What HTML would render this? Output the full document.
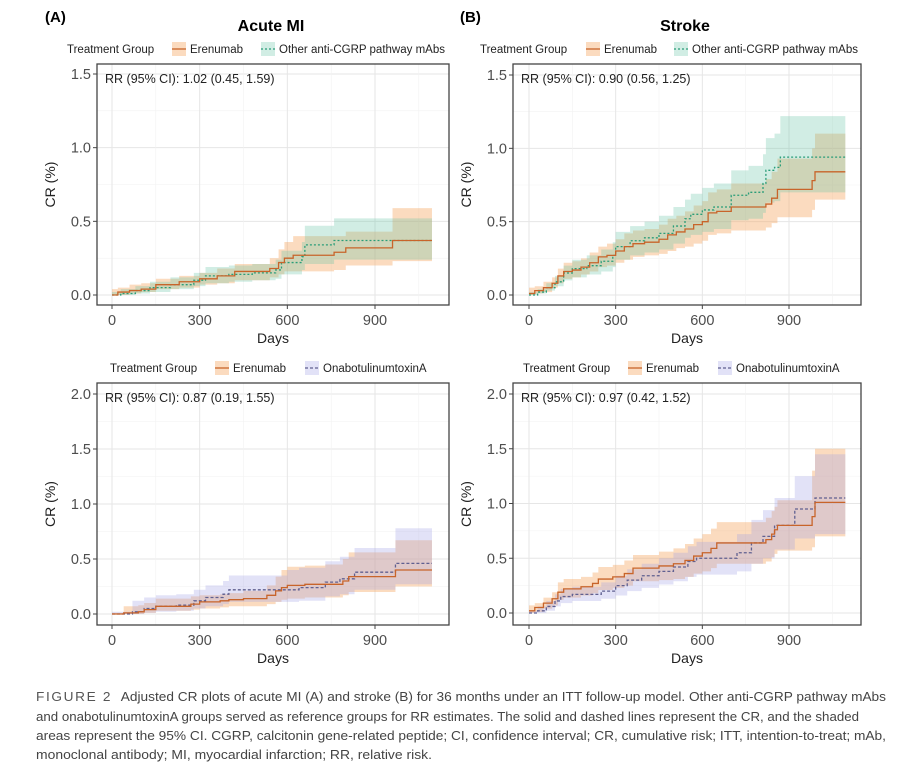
<!DOCTYPE html>
<html><head><meta charset="utf-8"><style>
body{margin:0;background:#fff}
svg{display:block;font-family:"Liberation Sans",sans-serif}
</style></head><body>
<svg id="fig" width="909" height="776" viewBox="0 0 909 776">
<text x="45" y="22" font-size="15" font-weight="bold">(A)</text>
<text x="460" y="22" font-size="15" font-weight="bold">(B)</text>
<text x="271" y="31" font-size="16" font-weight="bold" text-anchor="middle">Acute MI</text>
<text x="685" y="31" font-size="16" font-weight="bold" text-anchor="middle">Stroke</text>
<g font-size="12.5" fill="#555">
<text x="36" y="701" textLength="850" lengthAdjust="spacingAndGlyphs"><tspan letter-spacing="1.5">FIGURE 2</tspan><tspan fill="#444" dx="8">Adjusted CR plots of acute MI (A) and stroke (B) for 36 months under an ITT follow-up model. Other anti-CGRP pathway mAbs</tspan></text>
<text x="36" y="721" textLength="823" lengthAdjust="spacingAndGlyphs" fill="#444">and onabotulinumtoxinA groups served as reference groups for RR estimates. The solid and dashed lines represent the CR, and the shaded</text>
<text x="36" y="740" textLength="850" lengthAdjust="spacingAndGlyphs" fill="#444">areas represent the 95% CI. CGRP, calcitonin gene-related peptide; CI, confidence interval; CR, cumulative risk; ITT, intention-to-treat; mAb,</text>
<text x="36" y="759" textLength="396" lengthAdjust="spacingAndGlyphs" fill="#444">monoclonal antibody; MI, myocardial infarction; RR, relative risk.</text>
</g>
</svg>
<script>
// ---- Panel A top: Acute MI, Erenumab vs Other anti-CGRP
const miErenT=[0,20,60,100,150,230,300,360,420,540,570,590,620,760,800,960];
const miErenV=[0,0.02,0.03,0.04,0.07,0.09,0.11,0.13,0.16,0.18,0.22,0.25,0.27,0.29,0.32,0.37];
const miErenL=[0,0,0.01,0.02,0.04,0.05,0.07,0.08,0.10,0.12,0.14,0.16,0.16,0.17,0.20,0.23];
const miErenU=[0.04,0.05,0.07,0.08,0.11,0.13,0.15,0.18,0.21,0.25,0.31,0.36,0.40,0.40,0.43,0.59];
const miOthT=[0,30,80,130,200,280,320,400,480,560,580,650,660,760];
const miOthV=[0,0.01,0.03,0.05,0.07,0.10,0.13,0.14,0.15,0.17,0.22,0.26,0.34,0.37];
const miOthL=[0,0,0.01,0.02,0.04,0.06,0.08,0.09,0.10,0.11,0.14,0.17,0.21,0.24];
const miOthU=[0.02,0.04,0.06,0.09,0.12,0.15,0.19,0.20,0.21,0.24,0.30,0.36,0.47,0.52];
// ---- Panel B top: Stroke, Erenumab vs Other anti-CGRP
const stErenT=[0,20,50,80,100,120,150,180,210,240,270,300,330,360,400,450,480,510,540,570,600,620,650,700,820,840,860,980,990];
const stErenV=[0.01,0.03,0.05,0.08,0.13,0.16,0.17,0.19,0.22,0.26,0.27,0.30,0.33,0.35,0.36,0.38,0.41,0.43,0.45,0.48,0.50,0.56,0.57,0.60,0.62,0.66,0.72,0.78,0.84];
const stErenL=[0,0.01,0.02,0.05,0.08,0.11,0.12,0.14,0.16,0.19,0.20,0.22,0.24,0.26,0.27,0.28,0.30,0.32,0.33,0.35,0.37,0.41,0.42,0.44,0.46,0.49,0.53,0.58,0.65];
const stErenU=[0.05,0.06,0.09,0.12,0.18,0.22,0.23,0.25,0.29,0.33,0.35,0.38,0.42,0.44,0.45,0.48,0.52,0.54,0.57,0.61,0.64,0.70,0.72,0.76,0.79,0.84,0.93,1.00,1.10];
const stOthT=[0,30,60,90,120,150,200,250,290,300,350,400,450,500,540,560,600,640,700,760,810,820,850,870];
const stOthV=[0,0.02,0.05,0.09,0.15,0.18,0.20,0.23,0.27,0.33,0.37,0.39,0.42,0.47,0.52,0.55,0.58,0.60,0.68,0.70,0.76,0.85,0.87,0.94];
const stOthL=[0,0.01,0.03,0.06,0.10,0.12,0.14,0.16,0.19,0.24,0.27,0.29,0.31,0.35,0.39,0.41,0.43,0.45,0.51,0.52,0.56,0.63,0.64,0.70];
const stOthU=[0.02,0.04,0.08,0.13,0.20,0.24,0.27,0.31,0.36,0.43,0.47,0.50,0.54,0.60,0.65,0.69,0.73,0.76,0.85,0.88,0.96,1.07,1.10,1.22];
// ---- Panel A bottom: Acute MI, Erenumab vs OnabotulinumtoxinA
const mi2ErenT=[0,40,90,110,150,270,300,370,400,450,530,560,580,600,660,730,790,810,970];
const mi2ErenV=[0,0.01,0.02,0.04,0.07,0.09,0.11,0.12,0.13,0.14,0.17,0.21,0.24,0.26,0.27,0.27,0.30,0.34,0.40];
const mi2ErenL=[0,0,0,0.01,0.03,0.04,0.05,0.06,0.07,0.07,0.09,0.11,0.13,0.14,0.15,0.15,0.17,0.20,0.25];
const mi2ErenU=[0.01,0.07,0.08,0.10,0.14,0.16,0.17,0.18,0.19,0.21,0.26,0.34,0.40,0.43,0.44,0.45,0.50,0.56,0.67];
const ona1T=[0,70,110,150,220,280,320,380,400,470,580,600,640,730,780,830,970];
const ona1V=[0,0.02,0.05,0.07,0.08,0.12,0.15,0.18,0.22,0.22,0.22,0.22,0.24,0.29,0.32,0.38,0.46];
const ona1L=[0,0,0.01,0.02,0.03,0.05,0.07,0.09,0.11,0.11,0.11,0.11,0.12,0.16,0.18,0.22,0.27];
const ona1U=[0.02,0.12,0.15,0.17,0.18,0.22,0.26,0.30,0.35,0.35,0.35,0.40,0.42,0.48,0.52,0.60,0.78];
// ---- Panel B bottom: Stroke, Erenumab vs OnabotulinumtoxinA
const st2ErenT=[0,20,50,80,100,120,180,220,240,290,330,360,450,500,540,570,600,630,650,820,840,850,860,980,990];
const st2ErenV=[0.02,0.05,0.09,0.13,0.19,0.22,0.24,0.27,0.31,0.33,0.36,0.41,0.43,0.45,0.48,0.52,0.55,0.59,0.64,0.67,0.72,0.76,0.80,0.88,1.01];
const st2ErenL=[0,0.01,0.04,0.07,0.12,0.14,0.16,0.18,0.21,0.23,0.25,0.29,0.30,0.31,0.33,0.36,0.38,0.41,0.45,0.47,0.51,0.54,0.57,0.60,0.70];
const st2ErenU=[0.07,0.09,0.14,0.19,0.28,0.31,0.33,0.37,0.42,0.44,0.48,0.53,0.56,0.59,0.63,0.68,0.72,0.77,0.83,0.87,0.93,0.97,1.03,1.30,1.50];
const ona2T=[0,30,60,90,110,150,250,300,340,390,450,500,550,580,650,720,770,810,850,920,990];
const ona2V=[0,0.02,0.06,0.11,0.15,0.17,0.20,0.25,0.30,0.34,0.38,0.42,0.47,0.50,0.50,0.55,0.64,0.70,0.80,0.95,1.05];
const ona2L=[0,0,0.02,0.06,0.09,0.11,0.13,0.16,0.20,0.23,0.26,0.29,0.33,0.35,0.35,0.38,0.45,0.50,0.58,0.68,0.72];
const ona2U=[0.02,0.06,0.11,0.17,0.22,0.24,0.28,0.34,0.40,0.45,0.50,0.55,0.61,0.65,0.65,0.72,0.85,0.94,1.05,1.25,1.45];
const xTicks=[0,300,600,900];
const yTicksTop=[0,0.5,1.0,1.5];
const yTicksBot=[0,0.5,1.0,1.5,2.0];
const T_END=1095;

const NS='http://www.w3.org/2000/svg';
const svg=document.getElementById('fig');
function mk(tag,attrs,parent){const e=document.createElementNS(NS,tag);for(const k in attrs)e.setAttribute(k,attrs[k]);(parent||svg).appendChild(e);return e;}

function panel(cfg){
  const g=mk('g',{});
  
  
  const xs=d=>cfg.x0+(d/900)*(cfg.x900-cfg.x0);
  const ys=v=>cfg.y0-(v/cfg.ymaxTick)*(cfg.y0-cfg.yTop);
  const L=cfg.left,R=cfg.right,T=cfg.top,B=cfg.bottom;
  const step=(cfg.y0-cfg.yTop)/(cfg.yTicks.length-1);
  for(let i=0;i<cfg.yTicks.length*2;i++){const y=cfg.y0-i*step/2;if(y<T)break;
    mk('line',{x1:L,x2:R,y1:y,y2:y,stroke:i%2?'#f2f2f2':'#e6e6e6','stroke-width':i%2?0.6:1},g);}
  for(let d=0;d<=1200;d+=150){const x=xs(d);if(x>R)break;
    mk('line',{x1:x,x2:x,y1:T,y2:B,stroke:(d%300)?'#f2f2f2':'#e6e6e6','stroke-width':(d%300)?0.6:1},g);}
  cfg.series.forEach(s=>{
    let up='',lo='';
    for(let i=0;i<s.t.length;i++){const x1=xs(s.t[i]),x2=xs(i+1<s.t.length?s.t[i+1]:T_END);
      up+=(i?'L':'M')+x1+','+ys(s.u[i])+'L'+x2+','+ys(s.u[i]);
      lo=' L'+x2+','+ys(s.l[i])+' L'+x1+','+ys(s.l[i])+lo;}
    const band=mk('path',{d:up+lo+'Z',fill:s.fill,'fill-opacity':s.op},g);
    
    
  });
  cfg.series.slice().reverse().forEach(s=>{
    let d='';
    for(let i=0;i<s.t.length;i++){const x1=xs(s.t[i]),x2=xs(i+1<s.t.length?s.t[i+1]:T_END);
      d+=(i?'L':'M')+x1+','+ys(s.v[i])+'L'+x2+','+ys(s.v[i]);}
    const ln=mk('path',{d:d,fill:'none',stroke:s.line,'stroke-width':1.3,'stroke-dasharray':s.dash||'none'},g);
    
    
  });
  mk('rect',{x:L,y:T,width:R-L,height:B-T,fill:'none',stroke:'#444','stroke-width':1.3},g);
  cfg.yTicks.forEach((v,i)=>{const y=ys(v);
    mk('line',{x1:L-4,x2:L,y1:y,y2:y,stroke:'#444'},g);
    const t=mk('text',{x:L-6,y:y+5,'font-size':14.5,fill:'#4d4d4d','text-anchor':'end'},g);t.textContent=v.toFixed(1);
    });
  xTicks.forEach(d=>{const x=xs(d);
    mk('line',{x1:x,x2:x,y1:B,y2:B+4,stroke:'#444'},g);
    const t=mk('text',{x:x,y:B+20,'font-size':14.5,fill:'#4d4d4d','text-anchor':'middle'},g);t.textContent=d;
    });
  const xt=mk('text',{x:(L+R)/2,y:B+38,'font-size':14,'text-anchor':'middle',fill:'#222'},g);xt.textContent='Days';
  
  const yt=mk('text',{x:0,y:0,'font-size':14,'text-anchor':'middle',fill:'#222',transform:'translate('+(L-42)+','+((T+B)/2)+') rotate(-90)'},g);yt.textContent='CR (%)';
  
  const rr=mk('text',{x:L+8,y:T+19,'font-size':12.5,fill:'#222'},g);rr.textContent=cfg.rr;
  
  const lg=mk('g',{'font-size':11.5,fill:'#222'},g);
  
  const tg=mk('text',{x:cfg.lx,y:cfg.ly+4},lg);tg.textContent='Treatment Group';
  cfg.series.forEach((s,i)=>{const kx=cfg.keys[i];
    const k=mk('g',{},lg);
    
    mk('rect',{x:kx,y:cfg.ly-7,width:14,height:14,fill:s.fill,'fill-opacity':s.op},k);
    mk('line',{x1:kx,x2:kx+14,y1:cfg.ly,y2:cfg.ly,stroke:s.line,'stroke-width':1.3,'stroke-dasharray':s.dash||'none'},k);
    const t=mk('text',{x:kx+18,y:cfg.ly+4},k);t.textContent=s.label;});
}
const O={fill:'#f4a460',op:0.4,line:'#c8642a'};
const TE={fill:'#66c2a5',op:0.3,line:'#2a9d78',dash:'2,2'};
const PU={fill:'#a0a0e6',op:0.3,line:'#606090',dash:'3,2'};
function S(base,id,label,t,v,l,u){return Object.assign({},base,{id,label,t,v,l,u});}
panel({name:'panel-a-top-acute-mi',left:97,right:449,top:64,bottom:305,x0:112,x900:375,y0:295,yTop:74,ymaxTick:1.5,yTicks:yTicksTop,
  rr:'RR (95% CI): 1.02 (0.45, 1.59)',lx:67,ly:49,keys:[172,261],
  series:[S(O,'erenumab','Erenumab',miErenT,miErenV,miErenL,miErenU),S(TE,'other-anti-cgrp','Other anti-CGRP pathway mAbs',miOthT,miOthV,miOthL,miOthU)]});
panel({name:'panel-b-top-stroke',left:513,right:861,top:64,bottom:305,x0:529,x900:789,y0:295,yTop:75,ymaxTick:1.5,yTicks:yTicksTop,
  rr:'RR (95% CI): 0.90 (0.56, 1.25)',lx:480,ly:49,keys:[586,674],
  series:[S(O,'erenumab','Erenumab',stErenT,stErenV,stErenL,stErenU),S(TE,'other-anti-cgrp','Other anti-CGRP pathway mAbs',stOthT,stOthV,stOthL,stOthU)]});
panel({name:'panel-a-bottom-acute-mi',left:97,right:449,top:383,bottom:625,x0:112,x900:375,y0:614,yTop:394,ymaxTick:2.0,yTicks:yTicksBot,
  rr:'RR (95% CI): 0.87 (0.19, 1.55)',lx:110,ly:368,keys:[215,305],
  series:[S(O,'erenumab','Erenumab',mi2ErenT,mi2ErenV,mi2ErenL,mi2ErenU),S(PU,'onabotulinumtoxina','OnabotulinumtoxinA',ona1T,ona1V,ona1L,ona1U)]});
panel({name:'panel-b-bottom-stroke',left:513,right:861,top:383,bottom:625,x0:529,x900:789,y0:613,yTop:394,ymaxTick:2.0,yTicks:yTicksBot,
  rr:'RR (95% CI): 0.97 (0.42, 1.52)',lx:523,ly:368,keys:[628,718],
  series:[S(O,'erenumab','Erenumab',st2ErenT,st2ErenV,st2ErenL,st2ErenU),S(PU,'onabotulinumtoxina','OnabotulinumtoxinA',ona2T,ona2V,ona2L,ona2U)]});
</script>
</body></html>
